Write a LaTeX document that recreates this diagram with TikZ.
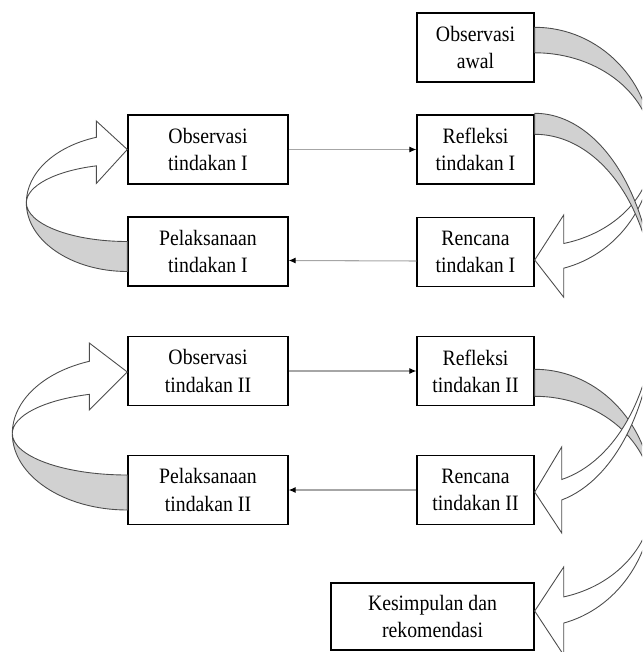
\documentclass[tikz,border=0pt]{standalone}
\usepackage{fontspec}
\setmainfont{Liberation Serif}[FakeStretch=0.9]
\usetikzlibrary{arrows.meta,calc}

\begin{document}
\begin{tikzpicture}[x=0.02cm,y=-0.02cm,
	box/.style={draw,line width=0.8pt,fill=white,align=center,inner sep=0pt,
		minimum height=1.38cm,font=\fontsize{12.5pt}{15.5pt}\selectfont},
	rbox/.style={box,minimum width=2.34cm},
	lbox/.style={box,minimum width=3.2cm},
	wbox/.style={box,minimum width=4.06cm,minimum height=1.34cm},
	link/.style={draw=black!35,line width=0.6pt,-{Latex[length=4pt,width=3.5pt,color=black]}},
	back/.style={fill=black!18,draw=black!70,line width=0.5pt},
	front/.style={fill=white,draw=black!70,line width=0.5pt}]
	
	\useasboundingbox (0,0) rectangle (642,652);
	\clip (0,0) rectangle (642,652);
	
	% boxes
	\node[rbox] (awal) at (475.5,47.5) {Observasi\\awal};
	\node[rbox] (ref1) at (475.5,149.5) {Refleksi\\tindakan I};
	\node[rbox] (ren1) at (475.5,252) {Rencana\\tindakan I};
	\node[lbox] (obs1) at (208,149.5) {Observasi\\tindakan I};
	\node[lbox] (pel1) at (208,251.5) {Pelaksanaan\\tindakan I};
	
	\node[lbox] (obs2) at (208,371) {Observasi\\tindakan II};
	\node[lbox] (pel2) at (208,490) {Pelaksanaan\\tindakan II};
	\node[rbox] (ref2) at (475.5,371) {Refleksi\\tindakan II};
	\node[rbox] (ren2) at (475.5,490) {Rencana\\tindakan II};
	
	\node[wbox] (kes) at (432.5,616.5) {Kesimpulan dan\\rekomendasi};
	
	% straight links
	\draw[link] (obs1) -- (ref1);
	\draw[link] ($(ren1.west)+(0,9)$) -- ($(pel1.east)+(0,9)$);
	\draw[link] (obs2) -- (ref2);
	\draw[link] (ren2) -- (pel2);
	
	% left loops
	\filldraw[back] ($(pel1.west)+(0,20)$) arc[start angle=90,end angle=180,x radius=101,y radius=69]
		arc[start angle=180,end angle=90,x radius=101,y radius=39] -- cycle;
	\filldraw[front] (obs1.west) -- ++(-31,-28.5) -- ++(0,16.3)
		arc[start angle=252.13,end angle=180,x radius=101,y radius=69]
		arc[start angle=180,end angle=252.13,x radius=101,y radius=39] -- ++(0,17.6) -- cycle;
	
	\filldraw[back] ($(pel2.west)+(0,20)$) arc[start angle=90,end angle=180,x radius=115,y radius=76.5]
		arc[start angle=180,end angle=90,x radius=115,y radius=41.5] -- cycle;
	\filldraw[front] ($(obs2.west)+(0,1)$) -- ++(-38,-29) -- ++(0,18.3)
		arc[start angle=250.71,end angle=180,x radius=115,y radius=76.5]
		arc[start angle=180,end angle=250.71,x radius=115,y radius=41.5] -- ++(0,15.7) -- cycle;
	
	% right loops
	\filldraw[back] ($(awal.north east)+(0,15)$) arc[start angle=-90,end angle=0,x radius=118,y radius=122]
		arc[start angle=0,end angle=-90,x radius=118,y radius=96.5] -- cycle;
	\filldraw[front] ($(ren1.east)+(0,8)$) -- ++(29,-45) -- ++(0,28.5)
		arc[start angle=75.77,end angle=0,x radius=118,y radius=96.5]
		arc[start angle=0,end angle=75.77,x radius=118,y radius=122] -- ++(0,29) -- cycle;
	
	\filldraw[back] ($(ref2.north east)+(0,33.5)$) arc[start angle=-90,end angle=0,x radius=118,y radius=128.5]
		arc[start angle=0,end angle=-90,x radius=118,y radius=101.5] -- cycle;
	\filldraw[front] ($(kes.east)+(0,-5.5)$) -- ++(29,-44) -- ++(0,29.9)
		arc[start angle=75.77,end angle=0,x radius=118,y radius=101.5]
		arc[start angle=0,end angle=75.77,x radius=118,y radius=128.5] -- ++(0,32) -- cycle;
	
	\filldraw[back] ($(ref1.north east)+(0,-1)$) arc[start angle=-90,end angle=0,x radius=120,y radius=195.5]
		arc[start angle=0,end angle=-90,x radius=120,y radius=174.5] -- cycle;
	\filldraw[front] ($(ren2.east)+(0,2)$) -- ++(27,-45) -- ++(0,32.5)
		arc[start angle=77,end angle=0,x radius=120,y radius=174.5]
		arc[start angle=0,end angle=77,x radius=120,y radius=195.5] -- ++(0,33) -- cycle;
	
\end{tikzpicture}
\end{document}
